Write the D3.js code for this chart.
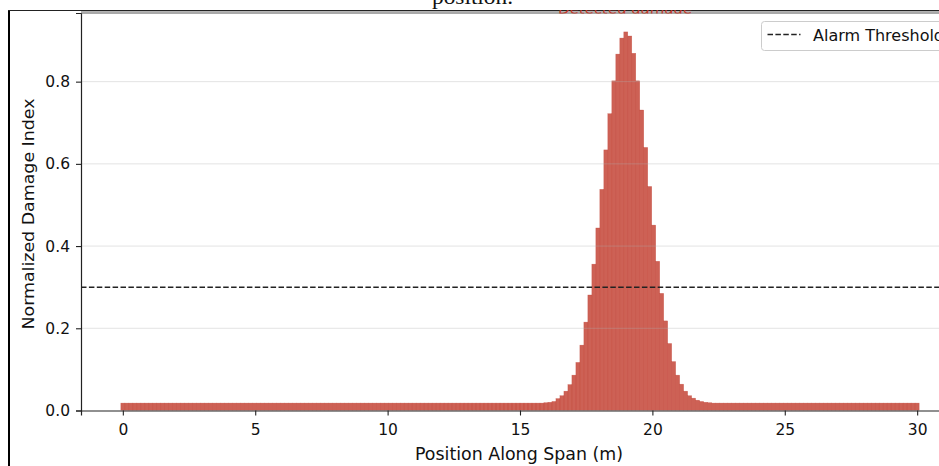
<!DOCTYPE html>
<html>
<head>
<meta charset="utf-8">
<script src="https://cdn.jsdelivr.net/npm/d3@7/dist/d3.min.js"></script>
<style>
  html, body { margin: 0; padding: 0; background: #fff; }
  svg { display: block; }
</style>
</head>
<body>
<div id="chart"></div>
<script>
// ---- data ----
const spanStart = 0;
const spanEnd = 30;
const damageIndex = [
  0.018,0.018,0.018,0.018,0.018,0.018,0.018,0.018,0.018,0.018,
  0.018,0.018,0.018,0.018,0.018,0.018,0.018,0.018,0.018,0.018,
  0.018,0.018,0.018,0.018,0.018,0.018,0.018,0.018,0.018,0.018,
  0.018,0.018,0.018,0.018,0.018,0.018,0.018,0.018,0.018,0.018,
  0.018,0.018,0.018,0.018,0.018,0.018,0.018,0.018,0.018,0.018,
  0.018,0.018,0.018,0.018,0.018,0.018,0.018,0.018,0.018,0.018,
  0.018,0.018,0.018,0.018,0.018,0.018,0.018,0.018,0.018,0.018,
  0.018,0.018,0.018,0.018,0.018,0.018,0.018,0.018,0.018,0.018,
  0.018,0.018,0.018,0.018,0.018,0.018,0.018,0.018,0.018,0.018,
  0.018,0.018,0.018,0.018,0.018,0.018,0.018,0.018,0.018,0.018,
  0.018,0.018,0.018,0.018,0.018,0.018,0.019,0.020,0.022,0.029,
  0.036,0.047,0.063,0.086,0.117,0.159,0.215,0.281,0.356,0.444,
  0.538,0.634,0.722,0.802,0.867,0.906,0.921,0.911,0.869,0.802,
  0.731,0.640,0.545,0.451,0.363,0.285,0.218,0.163,0.119,0.086,
  0.064,0.047,0.036,0.030,0.025,0.022,0.020,0.019,0.018,0.018,
  0.018,0.018,0.018,0.018,0.018,0.018,0.018,0.018,0.018,0.018,
  0.018,0.018,0.018,0.018,0.018,0.018,0.018,0.018,0.018,0.018,
  0.018,0.018,0.018,0.018,0.018,0.018,0.018,0.018,0.018,0.018,
  0.018,0.018,0.018,0.018,0.018,0.018,0.018,0.018,0.018,0.018,
  0.018,0.018,0.018,0.018,0.018,0.018,0.018,0.018,0.018,0.018
];
const alarmThreshold = 0.3;
const xTicks = [0, 5, 10, 15, 20, 25, 30];
const yTicks = [0.0, 0.2, 0.4, 0.6, 0.8];
const xLabel = "Position Along Span (m)";
const yLabel = "Normalized Damage Index";
const legendLabel = "Alarm Threshold";
const annotationText = "Detected damage";
const captionText = "position.";

// ---- layout ----
const W = 939, H = 466;
const axL = 81, axR = 959, axT = 13, axB = 410.5;
const step = (spanEnd - spanStart) / (damageIndex.length - 1);
const positions = damageIndex.map((_, i) => spanStart + i * step);
const barW = step;

const x = d3.scaleLinear().domain([-1.58, 31.58]).range([axL, axR]);
const y = d3.scaleLinear().domain([0, 0.967]).range([axB, axT]);

const svg = d3.select("#chart").append("svg")
  .attr("width", W).attr("height", H)
  .style("font-family", "'DejaVu Sans', sans-serif");

svg.append("rect").attr("width", W).attr("height", H).attr("fill", "#fff");

const defs = svg.append("defs");
defs.append("clipPath").attr("id", "axclip")
  .append("rect").attr("x", axL).attr("y", axT).attr("width", axR - axL).attr("height", axB - axT);
defs.append("clipPath").attr("id", "annclip")
  .append("rect").attr("x", 0).attr("y", 10).attr("width", W).attr("height", 3.5);

// caption text from the document above the figure (cut off at the top, as in the reference)
svg.append("text").attr("x", 432).attr("y", 4)
  .attr("font-family", "'Liberation Serif', 'DejaVu Serif', serif")
  .attr("font-size", 22).attr("fill", "#111")
  .attr("textLength", 81).attr("lengthAdjust", "spacingAndGlyphs")
  .text(captionText);

// bars
const gBars = svg.append("g").attr("clip-path", "url(#axclip)");
gBars.selectAll("rect.bar").data(damageIndex).join("rect")
  .attr("class", "bar")
  .attr("x", (d, i) => x(positions[i] - barW / 2))
  .attr("width", (d, i) => x(positions[i] + barW / 2) - x(positions[i] - barW / 2))
  .attr("y", d => y(d))
  .attr("height", d => y(0) - y(d))
  .attr("fill", "#c0392b").attr("fill-opacity", 0.8)
  .attr("stroke", "#c0392b").attr("stroke-opacity", 0.5).attr("stroke-width", 0.5);

// grid (drawn on top, translucent)
const gGrid = svg.append("g").attr("clip-path", "url(#axclip)");
gGrid.selectAll("line").data(yTicks.filter(t => t > 0)).join("line")
  .attr("x1", axL).attr("x2", axR)
  .attr("y1", d => y(d)).attr("y2", d => y(d))
  .attr("stroke", "#b0b0b0").attr("stroke-opacity", 0.35).attr("stroke-width", 1);

// threshold line
svg.append("line").attr("clip-path", "url(#axclip)")
  .attr("x1", axL).attr("x2", axR)
  .attr("y1", y(alarmThreshold)).attr("y2", y(alarmThreshold))
  .attr("stroke", "#222").attr("stroke-width", 1.4)
  .attr("stroke-dasharray", "5.5,2.4");

// axes
const xAxis = d3.axisBottom(x).tickValues(xTicks).tickFormat(d3.format("d")).tickSize(5).tickPadding(4);
const gx = svg.append("g").attr("transform", `translate(0,${axB})`).call(xAxis);
gx.select(".domain").attr("stroke", "#222").attr("stroke-width", 1.2);
gx.selectAll(".tick line").attr("stroke", "#222").attr("stroke-width", 1.1);
gx.selectAll(".tick text").attr("font-size", 15.5).attr("fill", "#111")
  .attr("font-family", "'DejaVu Sans', sans-serif")
  .attr("dy", null).attr("y", 24);

const yAxis = d3.axisLeft(y).tickValues(yTicks).tickFormat(d3.format(".1f")).tickSize(5).tickPadding(6);
const gy = svg.append("g").attr("transform", `translate(${axL},0)`).call(yAxis);
gy.select(".domain").attr("stroke", "#222").attr("stroke-width", 1.2);
gy.selectAll(".tick line").attr("stroke", "#222").attr("stroke-width", 1.1);
gy.selectAll(".tick text").attr("font-size", 15.5).attr("fill", "#111")
  .attr("font-family", "'DejaVu Sans', sans-serif");

// top spine
svg.append("line").attr("x1", axL).attr("x2", W).attr("y1", axT).attr("y2", axT)
  .attr("stroke", "#555").attr("stroke-width", 1.2);

// axis labels
svg.append("text").attr("x", 519).attr("y", 460)
  .attr("text-anchor", "middle").attr("font-size", 17).attr("fill", "#111")
  .attr("textLength", 208).attr("lengthAdjust", "spacingAndGlyphs")
  .text(xLabel);
svg.append("text")
  .attr("transform", `translate(33.5,214) rotate(-90)`)
  .attr("text-anchor", "middle").attr("font-size", 16.5).attr("fill", "#111")
  .attr("textLength", 231).attr("lengthAdjust", "spacingAndGlyphs")
  .text(yLabel);

// legend (upper right, partially outside view)
const lg = svg.append("g").attr("transform", "translate(761.5,21.5)");
lg.append("rect").attr("width", 200).attr("height", 29).attr("rx", 3)
  .attr("fill", "#fff").attr("fill-opacity", 0.8)
  .attr("stroke", "#cccccc").attr("stroke-width", 1);
lg.append("line").attr("x1", 6).attr("x2", 39).attr("y1", 13).attr("y2", 13)
  .attr("stroke", "#222").attr("stroke-width", 1.4).attr("stroke-dasharray", "5.5,2.4");
lg.append("text").attr("x", 51.5).attr("y", 19).attr("font-size", 16).attr("fill", "#111")
  .text(legendLabel);

// document frame lines
svg.append("line").attr("x1", 9).attr("x2", 9).attr("y1", 10).attr("y2", H)
  .attr("stroke", "#000").attr("stroke-width", 2);
svg.append("line").attr("x1", 8).attr("x2", W).attr("y1", 10.5).attr("y2", 10.5)
  .attr("stroke", "#222").attr("stroke-width", 1.2);
svg.append("rect").attr("x", axL).attr("y", 11.1).attr("width", W - axL).attr("height", 1.4)
  .attr("fill", "#aaa");

// red annotation strip (only its lowest edge shows below the frame, as in the reference)
svg.append("text").attr("x", 558).attr("y", 13.5)
  .attr("clip-path", "url(#annclip)")
  .attr("font-size", 15).attr("fill", "#c0392b")
  .attr("textLength", 134).attr("lengthAdjust", "spacingAndGlyphs")
  .text(annotationText);
</script>
</body>
</html>
